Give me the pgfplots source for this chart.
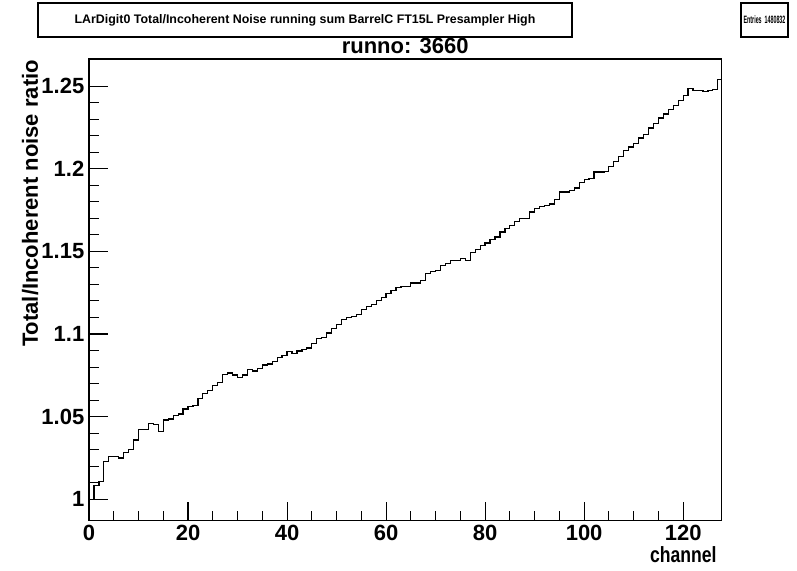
\documentclass[border=0pt]{standalone}
\usepackage{fontspec}
\setmainfont{Liberation Sans}
\usepackage{pgfplots}
\usepackage{pgfplotstable}
\pgfplotsset{compat=1.18}

% running sum ratio per channel (bin k spans [k,k+1])
\pgfplotstableread{
ch ratio
0 1.0000
1 1.0085
2 1.0108
3 1.0230
4 1.0259
5 1.0259
6 1.0250
7 1.0282
8 1.0302
9 1.0359
10 1.0423
11 1.0420
12 1.0460
13 1.0450
14 1.0412
15 1.0480
16 1.0486
17 1.0506
18 1.0516
19 1.0546
20 1.0560
21 1.0566
22 1.0612
23 1.0640
24 1.0658
25 1.0686
26 1.0708
27 1.0755
28 1.0764
29 1.0752
30 1.0736
31 1.0752
32 1.0784
33 1.0776
34 1.0792
35 1.0812
36 1.0818
37 1.0833
38 1.0857
39 1.0869
40 1.0893
41 1.0883
42 1.0897
43 1.0905
44 1.0915
45 1.0941
46 1.0972
47 1.0977
48 1.1006
49 1.1032
50 1.1058
51 1.1088
52 1.1098
53 1.1107
54 1.1117
55 1.1149
56 1.1167
57 1.1177
58 1.1203
59 1.1219
60 1.1244
61 1.1264
62 1.1280
63 1.1287
64 1.1288
65 1.1308
66 1.1308
67 1.1325
68 1.1365
69 1.1379
70 1.1385
71 1.1415
72 1.1425
73 1.1445
74 1.1445
75 1.1456
76 1.1445
77 1.1492
78 1.1512
79 1.1536
80 1.1550
81 1.1571
82 1.1587
83 1.1617
84 1.1637
85 1.1657
86 1.1681
87 1.1698
88 1.1698
89 1.1738
90 1.1758
91 1.1772
92 1.1776
93 1.1786
94 1.1813
95 1.1859
96 1.1859
97 1.1869
98 1.1883
99 1.1917
100 1.1933
101 1.1939
102 1.1980
103 1.1980
104 1.1984
105 1.2014
106 1.2044
107 1.2075
108 1.2109
109 1.2131
110 1.2155
111 1.2186
112 1.2206
113 1.2246
114 1.2276
115 1.2307
116 1.2331
117 1.2357
118 1.2383
119 1.2411
120 1.2441
121 1.2484
122 1.2472
123 1.2472
124 1.2468
125 1.2472
126 1.2478
127 1.2538
128 1.2538
}\ratiodata

\begin{document}
\begin{tikzpicture}[x=0.75pt,y=0.75pt]
\useasboundingbox (0,0) rectangle (797,571);
\begin{axis}[
    at={(66.75pt,37.7pt)}, anchor=south west,
    width=474.2pt, height=346.3pt, scale only axis,
    xmin=0, xmax=127.7,
    ymin=0.987, ymax=1.2664,
    axis line style={line width=0.8pt},
    xtick={0,20,40,60,80,100,120}, minor x tick num=3,
    ytick={1,1.05,1.1,1.15,1.2,1.25}, minor y tick num=4,
    yticklabels={1,1.05,1.1,1.15,1.2,1.25},
    xtick pos=left, ytick pos=left,
    tick align=inside,
    major tick length=14pt, minor tick length=7.5pt,
    tick style={line width=0.8pt, black},
    tick label style={font=\fontsize{16.5}{18}\selectfont\bfseries},
    /pgf/number format/assume math mode=true,
    title={runno: 3660},
    title style={font=\fontsize{16.5}{18}\selectfont\bfseries,
        at={(axis description cs:0.5,1.011)}, anchor=center},
    xlabel={\scalebox{0.8}[1]{channel}},
    xlabel style={font=\fontsize{16.5}{18}\selectfont\bfseries,
        at={(axis description cs:1.0,-0.074)}, anchor=east},
    ylabel={Total/Incoherent noise ratio},
    ylabel style={font=\fontsize{16.5}{18}\selectfont\bfseries,
        at={(axis description cs:-0.093,1.008)}, anchor=east},
]
\addplot[const plot mark left, black, line width=0.9pt, mark=none]
    table[x=ch, y=ratio] {\ratiodata};
\end{axis}

% title and statistics boxes
\draw[line width=0.8pt] (38,534) rectangle (572,568);
\node[font=\fontsize{9.3}{11}\selectfont\bfseries] at (305,551)
    {LArDigit0 Total/Incoherent Noise running sum BarrelC FT15L Presampler High};
\draw[line width=0.8pt] (741,534) rectangle (788,568);
\node[font=\fontsize{8}{9}\selectfont\bfseries] at (764.5,551)
    {\scalebox{0.5}[1]{Entries \ 1480832}};
\end{tikzpicture}
\end{document}
